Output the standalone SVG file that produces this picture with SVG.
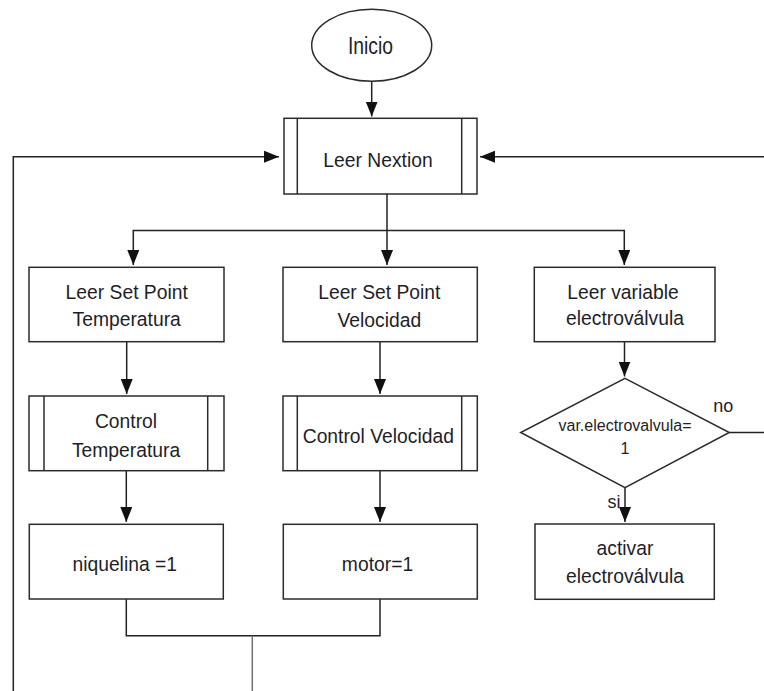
<svg xmlns="http://www.w3.org/2000/svg" width="764" height="691" viewBox="0 0 764 691">
  <style>
    .shape { fill: #ffffff; stroke: #2b2b2b; stroke-width: 1.5; }
    .bar { fill: none; stroke: #2b2b2b; stroke-width: 1.5; }
    .wire { fill: none; stroke: #222222; stroke-width: 1.5; }
    .wire.arrow { marker-end: url(#head); }
    .wire.faint { stroke: #707070; }
    text { font-family: "Liberation Sans", Arial, Helvetica, sans-serif; font-size: 19.3px; fill: #1e1e28; text-anchor: middle; }
    .small { font-size: 16px; }
    .tag { font-size: 18px; }
  </style>
  <defs>
    <marker id="head" markerUnits="userSpaceOnUse" markerWidth="15" markerHeight="12" refX="15" refY="6" orient="auto">
      <path d="M0,0 L15,6 L0,12 Z" fill="#111111"/>
    </marker>
  </defs>

  <rect x="0" y="0" width="764" height="691" fill="#ffffff"/>

  <!-- connectors -->
  <g id="connectors">
    <path class="wire arrow" d="M371.7,81 V116.5"/>
    <path class="wire arrow" d="M387,194 V265"/>
    <path class="wire arrow" d="M387,230.5 H133.3 V265"/>
    <path class="wire arrow" d="M387,230.5 H624.3 V265"/>
    <path class="wire arrow" d="M126.7,341.7 V394"/>
    <path class="wire arrow" d="M126.3,470.7 V522"/>
    <path class="wire arrow" d="M380,341.7 V394"/>
    <path class="wire arrow" d="M380,470.7 V522"/>
    <path class="wire arrow" d="M624.5,341.7 V376.5"/>
    <path class="wire arrow" d="M625,487.7 V522"/>
    <path class="wire" d="M729.3,432.5 H770"/>
    <path class="wire arrow" d="M770,156.7 H480"/>
    <path class="wire arrow" d="M13.3,700 V156.7 H279"/>
    <path class="wire" d="M126.3,599 V635.7 H380 V599"/>
    <path class="wire faint" d="M252.3,635.7 V700"/>
  </g>

  <!-- start -->
  <g id="inicio">
    <ellipse class="shape" cx="371.7" cy="45.3" rx="60" ry="36"/>
    <text transform="translate(370.5,54.3) scale(1,1.28)" x="0" y="0" font-size="18.9px">Inicio</text>
  </g>

  <!-- read display -->
  <g id="leer-nextion">
    <rect class="shape" x="284" y="118.3" width="193" height="75.7"/>
    <path class="bar" d="M297.3,118.3 V194 M461.7,118.3 V194"/>
    <text x="378" y="166.7">Leer Nextion</text>
  </g>

  <!-- temperature column -->
  <g id="leer-sp-temperatura">
    <rect class="shape" x="29" y="267.3" width="195" height="74.4"/>
    <text x="126.7" y="299">Leer Set Point</text>
    <text x="126.7" y="326">Temperatura</text>
  </g>
  <g id="control-temperatura">
    <rect class="shape" x="29" y="396" width="195" height="74.7"/>
    <path class="bar" d="M44,396 V470.7 M207.7,396 V470.7"/>
    <text x="126" y="428.3">Control</text>
    <text x="126" y="456.7">Temperatura</text>
  </g>
  <g id="niquelina">
    <rect class="shape" x="29.3" y="524.3" width="194" height="74.7"/>
    <text x="124.7" y="570.7">niquelina =1</text>
  </g>

  <!-- speed column -->
  <g id="leer-sp-velocidad">
    <rect class="shape" x="283" y="267.3" width="194.3" height="74.4"/>
    <text x="379.3" y="299">Leer Set Point</text>
    <text x="379.3" y="326.7">Velocidad</text>
  </g>
  <g id="control-velocidad">
    <rect class="shape" x="283" y="396" width="194.3" height="74.7"/>
    <path class="bar" d="M297.3,396 V470.7 M461.7,396 V470.7"/>
    <text x="378.3" y="442.7">Control Velocidad</text>
  </g>
  <g id="motor">
    <rect class="shape" x="283.3" y="524.3" width="194" height="74.7"/>
    <text x="377.5" y="570.7">motor=1</text>
  </g>

  <!-- valve column -->
  <g id="leer-variable">
    <rect class="shape" x="534.3" y="267.3" width="180.7" height="74.4"/>
    <text x="623" y="299">Leer variable</text>
    <text x="625" y="325">electroválvula</text>
  </g>
  <g id="decision">
    <polygon class="shape" points="625,378.3 729.3,432.5 625,487.7 520.7,432.5"/>
    <text class="small" x="625" y="430.7">var.electrovalvula=</text>
    <text class="small" x="625" y="454.3">1</text>
  </g>
  <g id="activar">
    <rect class="shape" x="535" y="524" width="179.3" height="75.3"/>
    <text x="625" y="555">activar</text>
    <text x="625" y="583.3">electroválvula</text>
  </g>

  <!-- branch labels -->
  <g id="labels">
    <text class="tag" x="723.3" y="411.7">no</text>
    <text class="tag" x="614" y="508.3">si</text>
  </g>
</svg>
